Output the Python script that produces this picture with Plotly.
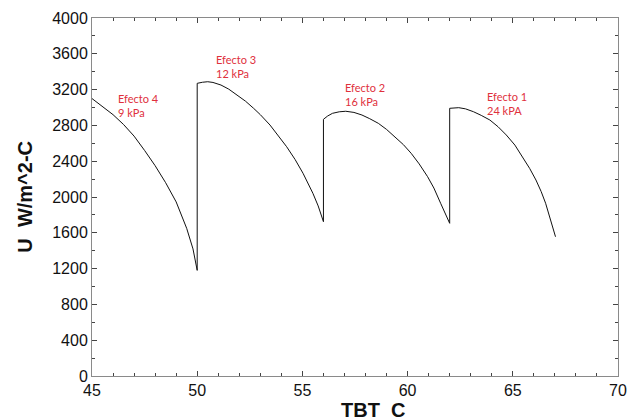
import plotly.graph_objects as go

# Data (TBT in C, U in W/m^2-C)
tbt = [45.0, 45.5, 46.0, 46.5, 47.0, 47.5, 48.0, 48.5, 49.0, 49.5, 49.8, 50.0,
       50.0, 50.25, 50.5, 50.75, 51.13, 51.5, 51.9, 52.3, 52.68, 53.0, 53.46, 53.85, 54.25, 54.65, 55.03, 55.5, 55.75, 56.0,
       56.0, 56.2, 56.43, 56.75, 57.06, 57.45, 57.83, 58.2, 58.61, 59.0, 59.39, 59.8, 60.17, 60.55, 60.95, 61.25, 61.57, 61.8, 62.0,
       62.0, 62.2, 62.43, 62.75, 63.13, 63.5, 63.91, 64.3, 64.69, 65.1, 65.47, 65.8, 66.1, 66.35, 66.56, 66.8, 67.03]
u = [3100, 3010, 2920, 2810, 2680, 2520, 2350, 2160, 1945, 1650, 1420, 1180,
     3270, 3282, 3288, 3280, 3251, 3205, 3140, 3070, 2991, 2920, 2804, 2690, 2562, 2420, 2265, 2041, 1900, 1724,
     2868, 2905, 2935, 2952, 2958, 2945, 2916, 2875, 2823, 2755, 2674, 2585, 2488, 2370, 2227, 2100, 1930, 1800, 1706,
     2991, 2997, 2998, 2985, 2953, 2912, 2860, 2785, 2693, 2580, 2450, 2320, 2190, 2060, 1930, 1750, 1556]

label_text = ["Efecto 4<br>9 kPa", "Efecto 3<br>12 kPa", "Efecto 2<br>16 kPa", "Efecto 1<br>24 kPA"]
label_x = [46.15, 50.78, 56.95, 63.68]
label_y = [3020, 3455, 3140, 3045]

x_ticks = [45, 50, 55, 60, 65, 70]
y_ticks = [0, 400, 800, 1200, 1600, 2000, 2400, 2800, 3200, 3600, 4000]

fig = go.Figure()
fig.add_trace(go.Scatter(x=tbt, y=u, mode="lines",
                         line=dict(color="#111111", width=1), showlegend=False,
                         hoverinfo="skip"))

for t, xx, yy in zip(label_text, label_x, label_y):
    fig.add_annotation(x=xx, y=yy, text=t, showarrow=False, xanchor="left",
                       yanchor="middle", align="left",
                       font=dict(family="Lato", size=11, color="#e0303c"))

axis_common = dict(showgrid=False, zeroline=False, showline=True,
                   linecolor="#8a8a8a", linewidth=1, mirror="allticks",
                   ticks="inside", ticklen=5, tickcolor="#444444", tickwidth=1,
                   tickfont=dict(family="Liberation Sans, Arial", size=16, color="#111111"))

fig.update_xaxes(range=[45, 70], tickvals=x_ticks,
                 minor=dict(dtick=1, ticks="inside", ticklen=3, tickcolor="#444444"),
                 **axis_common)
fig.update_yaxes(range=[0, 4000], tickvals=y_ticks,
                 minor=dict(dtick=200, ticks="inside", ticklen=3, tickcolor="#444444"),
                 **axis_common)

fig.add_annotation(xref="paper", yref="paper", x=0.5346, y=-0.095, text="<b>TBT  C</b>",
                   showarrow=False, xanchor="center", yanchor="middle",
                   font=dict(family="Liberation Sans, Arial", size=20, color="#111111"))
fig.add_annotation(xref="paper", yref="paper", x=-0.128, y=0.5, text="<b>U  W/m^2-C</b>",
                   showarrow=False, xanchor="center", yanchor="middle", textangle=-90,
                   font=dict(family="Liberation Sans, Arial", size=20, color="#111111"))

fig.update_layout(width=637, height=419, margin=dict(l=92, r=10, t=18, b=43),
                  plot_bgcolor="white", paper_bgcolor="white")

fig.write_html("out.html", config={"displayModeBar": False},
               post_script="document.body.style.margin='0';document.body.style.overflow='hidden';")
